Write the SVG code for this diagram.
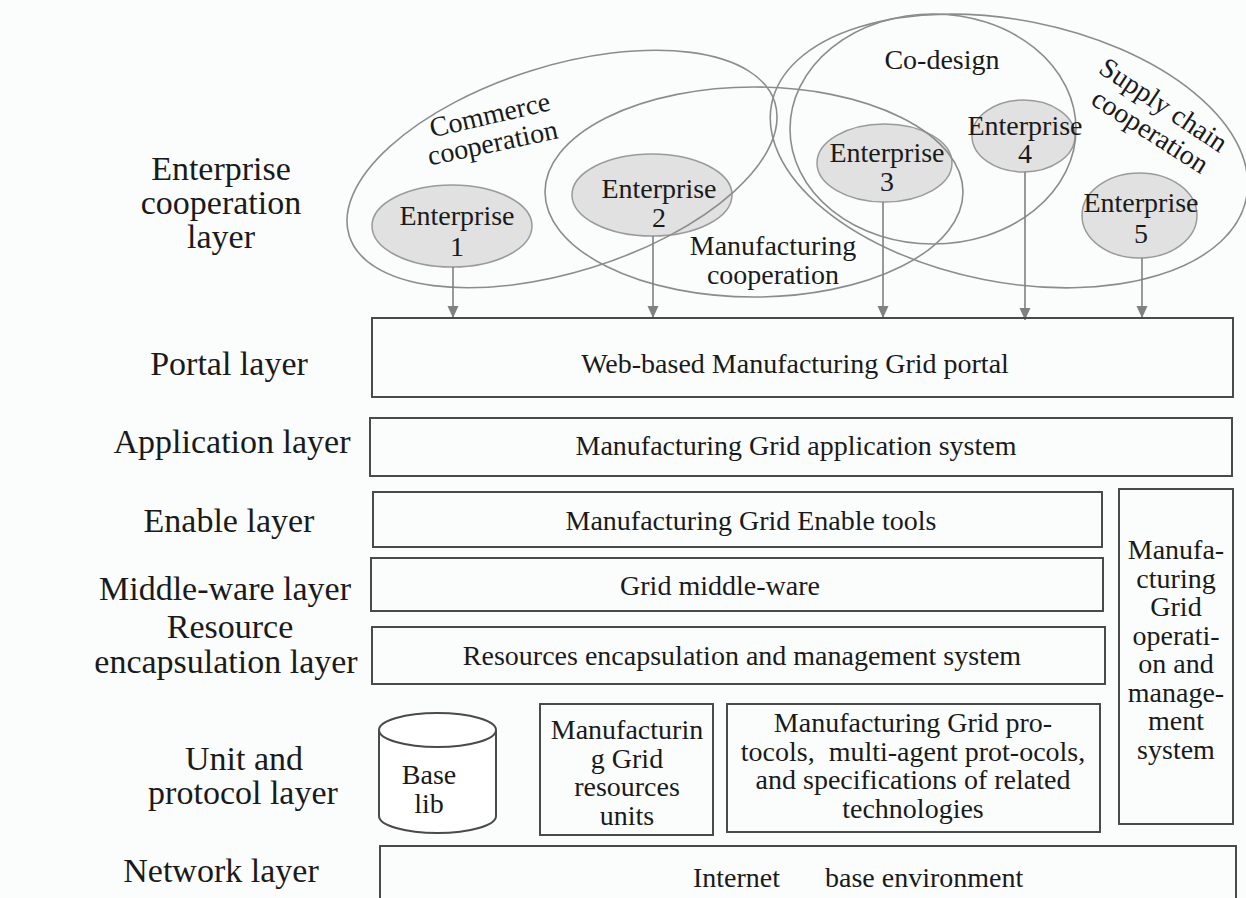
<svg xmlns="http://www.w3.org/2000/svg" width="1246" height="898" viewBox="0 0 1246 898">
<style>
text{font-family:"Liberation Serif","Times New Roman",serif;fill:#1a1a1a}
.lbl{font-size:34px;text-anchor:middle}
.t{font-size:28px;text-anchor:middle}
.box{fill:none;stroke:#4a4a4a;stroke-width:2}
.coop{fill:none;stroke:#8c8c8c;stroke-width:1.6}
.ent{fill:#e1e1e1;stroke:#9a9a9a;stroke-width:1.5}
.arr{stroke:#808080;stroke-width:1.6;fill:none;marker-end:url(#ah)}
</style>
<defs>
<marker id="ah" markerUnits="userSpaceOnUse" markerWidth="12" markerHeight="12" refX="12" refY="6" orient="auto">
<path d="M0,0.5 L12,6 L0,11.5 z" fill="#808080"/>
</marker>
</defs>
<rect x="0" y="0" width="1246" height="898" fill="#fbfdfd"/>

<!-- layer labels -->
<g id="label-enterprise-layer">
<text class="lbl" x="221" y="180">Enterprise</text>
<text class="lbl" x="221" y="213.5">cooperation</text>
<text class="lbl" x="221" y="247.5">layer</text>
</g>
<g id="label-portal"><text class="lbl" x="229" y="375">Portal layer</text></g>
<g id="label-application"><text class="lbl" x="232" y="453">Application layer</text></g>
<g id="label-enable"><text class="lbl" x="229" y="532">Enable layer</text></g>
<g id="label-middleware"><text class="lbl" x="225" y="600">Middle-ware layer</text></g>
<g id="label-resource">
<text class="lbl" x="230" y="638">Resource</text>
<text class="lbl" x="226" y="673">encapsulation layer</text>
</g>
<g id="label-unit">
<text class="lbl" x="244" y="769.5">Unit and</text>
<text class="lbl" x="243" y="803.5">protocol layer</text>
</g>
<g id="label-network"><text class="lbl" x="221" y="882">Network layer</text></g>

<!-- enterprises -->
<g id="enterprise1">
<ellipse class="ent" cx="452" cy="226" rx="80" ry="41"/>
</g>
<g id="enterprise2">
<ellipse class="ent" cx="652" cy="195" rx="80" ry="41"/>
</g>
<g id="enterprise3">
<ellipse class="ent" cx="884.5" cy="163" rx="67.5" ry="39"/>
</g>
<g id="enterprise4">
<ellipse class="ent" cx="1023.5" cy="136" rx="51.5" ry="36"/>
</g>
<g id="enterprise5">
<ellipse class="ent" cx="1139.5" cy="215.5" rx="57.5" ry="42.5"/>
</g>

<!-- cooperation ellipses -->
<g id="commerce-cooperation">
<ellipse class="coop" cx="0" cy="0" rx="223" ry="103" transform="translate(562,169) rotate(-17.4)"/>
<text class="t" x="0" y="8" transform="translate(490,116) rotate(-13)">Commerce</text>
<text class="t" x="0" y="7" transform="translate(493,145) rotate(-12)">cooperation</text>
</g>
<g id="manufacturing-cooperation">
<ellipse class="coop" cx="754" cy="192" rx="209" ry="105"/>
<text class="t" x="773" y="255">Manufacturing</text>
<text class="t" x="773" y="283.5">cooperation</text>
</g>
<g id="co-design">
<ellipse class="coop" cx="933" cy="129" rx="143" ry="115"/>
<text class="t" x="942" y="69">Co-design</text>
</g>
<g id="supply-chain-cooperation">
<ellipse class="coop" cx="0" cy="0" rx="242" ry="131" transform="translate(1009,151) rotate(11.2)"/>
<text class="t" x="0" y="8" transform="translate(1163,106) rotate(33.6)">Supply chain</text>
<text class="t" x="0" y="7" transform="translate(1149,133) rotate(32.5)">cooperation</text>
</g>

<!-- enterprise texts -->
<g id="enterprise-labels">
<text class="t" x="457" y="225">Enterprise</text><text class="t" x="457" y="256">1</text>
<text class="t" x="659" y="198">Enterprise</text><text class="t" x="659" y="227">2</text>
<text class="t" x="887" y="162">Enterprise</text><text class="t" x="887" y="191">3</text>
<text class="t" x="1025" y="134.5">Enterprise</text><text class="t" x="1025" y="163">4</text>
<text class="t" x="1141" y="212">Enterprise</text><text class="t" x="1141" y="243">5</text>
</g>

<!-- connectors -->
<g id="connectors">
<line class="arr" x1="453" y1="267" x2="453" y2="318"/>
<line class="arr" x1="653" y1="236" x2="653" y2="318"/>
<line class="arr" x1="883" y1="202" x2="883" y2="318"/>
<line class="arr" x1="1025" y1="172" x2="1025" y2="320"/>
<line class="arr" x1="1142" y1="258" x2="1142" y2="318"/>
</g>

<!-- layer boxes -->
<g id="portal">
<rect class="box" x="372" y="318" width="861" height="79"/>
<text class="t" x="795" y="373">Web-based Manufacturing Grid portal</text>
</g>
<g id="application">
<rect class="box" x="370" y="418" width="862" height="58"/>
<text class="t" x="796" y="455">Manufacturing Grid application system</text>
</g>
<g id="enable">
<rect class="box" x="373" y="492" width="729" height="55"/>
<text class="t" x="751" y="530">Manufacturing Grid Enable tools</text>
</g>
<g id="middleware">
<rect class="box" x="371" y="558" width="732" height="53"/>
<text class="t" x="720" y="595">Grid middle-ware</text>
</g>
<g id="resource">
<rect class="box" x="372" y="627" width="733" height="57"/>
<text class="t" x="742" y="665">Resources encapsulation and management system</text>
</g>
<g id="operation-management">
<rect class="box" x="1119" y="489" width="114" height="335"/>
<text class="t" x="1176" y="559">Manufa-</text>
<text class="t" x="1176" y="587.5">cturing</text>
<text class="t" x="1176" y="616">Grid</text>
<text class="t" x="1176" y="644.5">operati-</text>
<text class="t" x="1176" y="673">on and</text>
<text class="t" x="1176" y="701.5">manage-</text>
<text class="t" x="1176" y="730">ment</text>
<text class="t" x="1176" y="758.5">system</text>
</g>
<g id="base-lib">
<path d="M379,730 L379,816 A58.5,17 0 0 0 496,816 L496,730" fill="#fff" stroke="#4a4a4a" stroke-width="2"/>
<ellipse cx="437.5" cy="730" rx="58.5" ry="17" fill="#fff" stroke="#4a4a4a" stroke-width="2"/>
<text class="t" x="429" y="784">Base</text>
<text class="t" x="429" y="812.5">lib</text>
</g>
<g id="resource-units">
<rect class="box" x="540" y="704" width="173" height="131"/>
<text class="t" x="627" y="739">Manufacturin</text>
<text class="t" x="627" y="767.5">g Grid</text>
<text class="t" x="627" y="796">resources</text>
<text class="t" x="627" y="824.5">units</text>
</g>
<g id="protocols">
<rect class="box" x="727" y="704" width="373" height="128"/>
<text class="t" x="913" y="732">Manufacturing Grid pro-</text>
<text class="t" x="913" y="760.5" xml:space="preserve">tocols,  multi-agent prot-ocols,</text>
<text class="t" x="913" y="789">and specifications of related</text>
<text class="t" x="913" y="817.5">technologies</text>
</g>
<g id="network">
<rect class="box" x="380" y="846" width="856" height="70"/>
<text class="t" x="693" y="887" style="text-anchor:start">Internet</text>
<text class="t" x="825" y="887" style="text-anchor:start">base environment</text>
</g>
</svg>
